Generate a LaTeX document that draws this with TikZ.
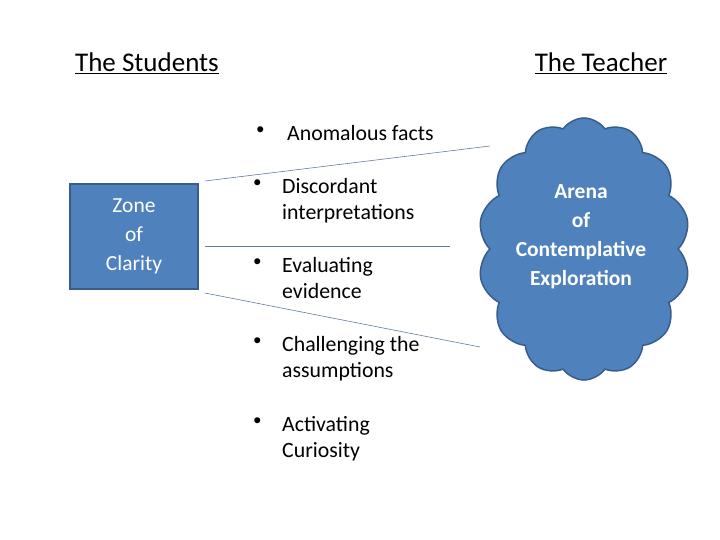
\documentclass[tikz,border=0pt]{standalone}
\usepackage{fontspec}
\setmainfont{Carlito}
\usetikzlibrary{shapes.symbols}
\definecolor{fillb}{HTML}{4F81BD}
\definecolor{edgeb}{HTML}{385D8A}
\begin{document}
\begin{tikzpicture}[x=1pt,y=-1pt,
  title/.style={font=\fontsize{27}{32}\selectfont,anchor=center},
  item/.style={font=\fontsize{21.8}{26}\selectfont,anchor=north west,align=left,inner sep=0pt},
  bul/.style={font=\fontsize{17}{26}\selectfont,anchor=north west,inner sep=0pt},
  conn/.style={draw=edgeb!80,line width=0.6pt}]
\useasboundingbox (0,0) rectangle (720,540);
\node[title] (ts) at (147,63) {\underline{The Students}};
\node[title] (tt) at (601,63) {\underline{The Teacher}};
\node[draw=edgeb,line width=1.5pt,fill=fillb,minimum width=128pt,minimum height=105pt,text=white,align=center,font=\fontsize{21.5}{29}\selectfont] (zone) at (134,236.5) {Zone\\ of\\ Clarity};
\node[cloud,cloud puffs=14,cloud puff arc=110,aspect=0.8,draw=edgeb,line width=1.5pt,fill=fillb,minimum width=212pt,minimum height=262pt,inner sep=0pt] (cloud) at (584,249) {};
\node[text=white,align=center,font=\bfseries\fontsize{21.5}{29}\selectfont] (arena) at (581,237) {Arena\\ of\\ Contemplative\\ Exploration};
\node[bul] (b1) at (256,127) {•};
\node[item] (t1) at (287,125) {Anomalous facts};
\node[bul] (b2) at (253,180) {•};
\node[item] (t2) at (282,178) {Discordant\\interpretations};
\node[bul] (b3) at (253,259) {•};
\node[item] (t3) at (282,257) {Evaluating\\evidence};
\node[bul] (b4) at (253,338) {•};
\node[item] (t4) at (282,336) {Challenging the\\assumptions};
\node[bul] (b5) at (253,418) {•};
\node[item] (t5) at (282,416) {Activating\\Curiosity};
\coordinate (l1a) at (205,181); \coordinate (l1b) at (490,146);
\coordinate (l2a) at (205,246); \coordinate (l2b) at (450,246);
\coordinate (l3a) at (205,293); \coordinate (l3b) at (480,347);
\draw[conn] (l1a) -- (l1b);
\draw[conn] (l2a) -- (l2b);
\draw[conn] (l3a) -- (l3b);
\end{tikzpicture}
\end{document}
